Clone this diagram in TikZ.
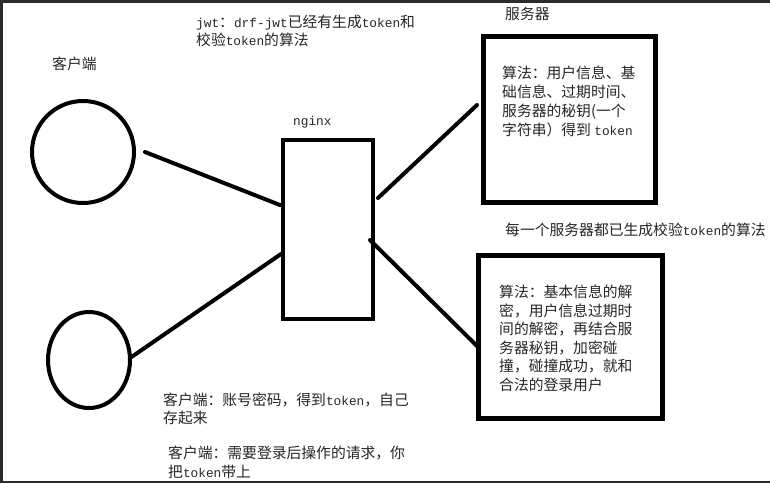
\documentclass[tikz,border=0pt]{standalone}
\usepackage{fontspec}
\setmainfont{Noto Sans CJK SC}
\newfontfamily\lat{Liberation Mono}
\usetikzlibrary{shapes.geometric}
\newcommand\tk[1]{{\lat\fontsize{12.8}{12.8}\selectfont #1}}
\newcommand\blk[2]{\vtop{\fontsize{14.8}{#1}\selectfont\lineskiplimit=-30pt #2}}
\definecolor{frame}{HTML}{2B2B2B}
\begin{document}
\begin{tikzpicture}[x=1pt,y=-1pt,
  ln/.style={line width=4pt,line cap=round},
  shp/.style={draw,line width=4pt,outer sep=0pt,inner sep=0pt},
  boxs/.style={draw,line width=5pt,outer sep=0pt,inner sep=0pt,rectangle},
  txt/.style={anchor=base west,inner sep=0pt,text=black!85,font=\fontsize{14.8}{18}\selectfont}]
\useasboundingbox (0,0) rectangle (770,483);
\fill[white] (0,0) rectangle (770,483);
\fill[frame] (0,0) rectangle (770,3);
\fill[frame] (0,0) rectangle (3,483);
\fill[frame] (0,481) rectangle (770,483);

% shapes
\node[shp,circle,minimum size=102pt] (c1) at (83,152) {};
\node[shp,ellipse,minimum width=82pt,minimum height=96pt] (c2) at (89,360) {};
\node[shp,rectangle,minimum width=90pt,minimum height=179pt] (ng) at (328,229.5) {};
\node[boxs,minimum width=172pt,minimum height=166pt] (s1) at (569,119) {};
\node[boxs,minimum width=184pt,minimum height=163pt] (s2) at (570,336.5) {};

% connectors
\draw[ln] ([xshift=11pt]c1.east) -- ([xshift=-3pt,yshift=24.5pt]ng.west);
\draw[ln] ([yshift=2pt]c2.east) -- ([xshift=-2pt,yshift=-24.5pt]ng.west);
\draw[ln] ([xshift=5pt,yshift=31.5pt]ng.east) -- ([xshift=-6pt,yshift=14pt]s1.west);
\draw[ln] ([xshift=-3pt,yshift=-10.5pt]ng.east) -- ([yshift=-10.5pt]s2.west);

% labels
\node[txt] (lclient) at (52,69) {客户端};
\node[txt] (lnginx) at (293,125) {\tk{nginx}};
\node[txt] (lserver) at (505,19.5) {服务器};
\node[txt] (ljwt) at (196,27.5) {\blk{18}{\hbox{\tk{jwt}：\tk{drf-jwt}已经有生成\tk{token}和}\hbox{校验\tk{token}的算法}}};
\node[txt] (ls1) at (502,78.5) {\blk{19}{\hbox{算法：用户信息、基}\hbox{础信息、过期时间、}\hbox{服务器的秘钥(一个}\hbox{字符串）得到 \tk{token}}}};
\node[txt] (lall) at (505,235.5) {每一个服务器都已生成校验\tk{token}的算法};
\node[txt] (ls2) at (499,297.5) {\blk{18.6}{\hbox{算法：基本信息的解}\hbox{密，用户信息过期时}\hbox{间的解密，再结合服}\hbox{务器秘钥，加密碰}\hbox{撞，碰撞成功，就和}\hbox{合法的登录用户}}};
\node[txt] (lb1) at (163,405.5) {\blk{17.5}{\hbox{客户端：账号密码，得到\tk{token}，自己}\hbox{存起来}}};
\node[txt] (lb2) at (168,458.5) {\blk{18.5}{\hbox{客户端：需要登录后操作的请求，你}\hbox{把\tk{token}带上}}};
\end{tikzpicture}
\end{document}
